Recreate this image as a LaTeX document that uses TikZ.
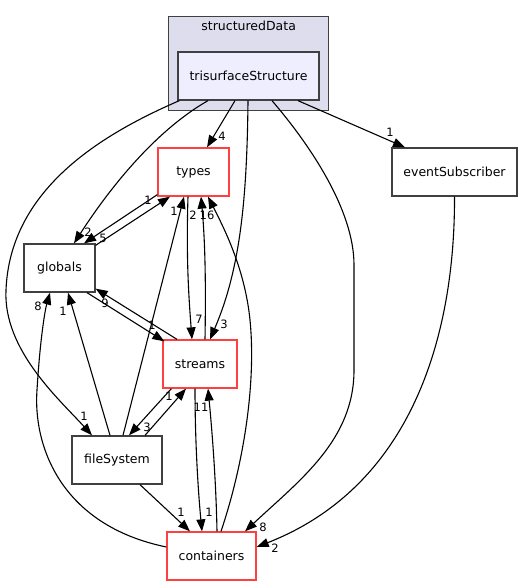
\documentclass[tikz,border=0pt]{standalone}
\usepackage{fontspec}
\setmainfont{DejaVu Sans}
\usetikzlibrary{arrows.meta}
\usetikzlibrary{calc}
\definecolor{clusterfill}{HTML}{DDDDEE}
\definecolor{dirfill}{HTML}{EEEEFF}
\definecolor{dirborder}{HTML}{404040}
\definecolor{dirred}{HTML}{FF4040}

\begin{document}
\begin{tikzpicture}[x=1bp,y=-1bp,
  dirfont/.style={font=\fontsize{12.5bp}{15bp}\selectfont},
  dir/.style={dirfont,draw=dirborder,line width=1.3bp,minimum height=48bp,inner sep=0pt},
  reddir/.style={dir,draw=dirred},
  dep/.style={-{Triangle[length=12bp,width=9bp]},line width=1.1bp},
  lbl/.style={font=\fontsize{11.5bp}{13bp}\selectfont,inner sep=0pt}]
	\fill[white] (0,0) rectangle (531,585);
	\useasboundingbox (0,0) rectangle (531,585);
	% cluster
	\node[draw=dirborder,fill=clusterfill,line width=1.3bp,minimum width=160bp,minimum height=94bp,anchor=north west] (structured) at (168,16) {};
	\node[dirfont,anchor=north,inner sep=0pt] (structuredname) at ($(structured.north)+(0,5)$) {structuredData};
	% directories
	\node[dir,fill=dirfill,minimum width=141bp] (tri) at (248.5,76) {trisurfaceStructure};
	\node[reddir,minimum width=71bp] (types) at (193.5,172) {types};
	\node[dir,minimum width=125bp] (evsub) at (454.5,172) {eventSubscriber};
	\node[dir,minimum width=71bp] (globals) at (59.5,268) {globals};
	\node[reddir,minimum width=74bp] (streams) at (200,364) {streams};
	\node[dir,minimum width=90bp] (filesys) at (117,460) {fileSystem};
	\node[reddir,minimum width=89bp] (containers) at (211.5,556) {containers};
	% dependencies of trisurfaceStructure
	\draw[dep] ($(tri.south)+(-13.5,0)$) -- ($(types.north)+(13.5,0)$);
	\draw[dep] ($(tri.south)+(-40.5,0)$) .. controls (160,128) and (115,180) .. ($(globals.north)+(14.5,0)$);
	\draw[dep] ($(tri.south west)+(2,0)$) .. controls (100,135) and (10,190) .. (6,290) .. controls (3,350) and (60,400) .. ($(filesys.north)+(-25,0)$);
	\draw[dep] ($(tri.south)+(-0.5,0)$) .. controls (247,200) and (240,270) .. ($(streams.north)+(10,0)$);
	\draw[dep] ($(tri.south)+(23.5,0)$) .. controls (310,145) and (354,210) .. (354,265) -- (354,370) .. controls (354,440) and (300,480) .. ($(containers.north)+(33.5,0)$);
	\draw[dep] ($(tri.south)+(49.5,0)$) -- ($(evsub.north)+(-49.5,0)$);
	\draw[dep] (evsub.south) .. controls (455,330) and (415,485) .. ($(containers.east)+(0,-9)$);
	% globals
	\draw[dep] ($(globals.north east)+(0,2)$) -- ($(types.south)+(-23.5,0)$);
	\draw[dep] ($(types.south west)+(0,-2)$) -- ($(globals.north)+(24.5,0)$);
	\draw[dep] ($(globals.south)+(27.5,0)$) -- ($(streams.north west)+(2,2)$);
	\draw[dep] ($(streams.north)+(-23,0)$) -- ($(globals.south east)+(0,-4)$);
	\draw[dep] ($(filesys.north)+(-7,0)$) -- ($(globals.south)+(8.5,0)$);
	\draw[dep] ($(containers.west)+(0,-9)$) .. controls (60,525) and (33,445) .. (37,390) .. controls (40,340) and (45,310) .. ($(globals.south)+(-9.5,0)$);
	% types
	\draw[dep] ($(filesys.north)+(6,0)$) -- ($(types.south)+(-9.5,0)$);
	\draw[dep] ($(types.south)+(-5.5,0)$) .. controls (186,260) and (189,300) .. ($(streams.north)+(-8,0)$);
	\draw[dep] ($(streams.north)+(5,0)$) .. controls (206,280) and (205,240) .. ($(types.south)+(7.5,0)$);
	\draw[dep] ($(containers.north)+(9.5,0)$) .. controls (245,460) and (256,380) .. (250,320) .. controls (245,270) and (225,230) .. ($(types.south)+(14.5,0)$);
	% streams, fileSystem, containers
	\draw[dep] ($(streams.south west)+(9,0)$) -- ($(filesys.north)+(12,0)$);
	\draw[dep] ($(filesys.north)+(28,0)$) -- ($(streams.south)+(-14,0)$);
	\draw[dep] ($(streams.south)+(-5,0)$) .. controls (195,440) and (198,490) .. ($(containers.north)+(-9.5,0)$);
	\draw[dep] ($(containers.north)+(5.5,0)$) .. controls (216,480) and (212,430) .. ($(streams.south)+(8,0)$);
	\draw[dep] ($(filesys.south)+(23,0)$) -- ($(containers.north)+(-21.5,0)$);
	% edge labels
	\foreach \name/\pos/\text in {ltt/{(222,136)}/4, lte/{(390,132)}/1, lgt/{(148,200)}/1, lft/{(174,211)}/1,
	                              lst/{(193,215)}/2, lct/{(207,215)}/16, ltg/{(88,232)}/2, ltgg/{(103,238)}/5,
	                              lcg/{(38,306)}/8, lfg/{(63,311)}/1, lsg/{(105,303)}/9, lgs/{(152,325)}/1,
	                              lts/{(199,319)}/7, ltrs/{(224,324)}/3, lfs/{(169,396)}/1, lcs/{(201,407)}/11,
	                              ltf/{(84,416)}/1, lsf/{(147,427)}/3, lfc/{(181,512)}/1, lsc/{(209,512)}/1,
	                              ltc/{(263,527)}/8, lec/{(275,548)}/2} {
		\node[lbl] (\name) at \pos {\text};
	}
\end{tikzpicture}
\end{document}
